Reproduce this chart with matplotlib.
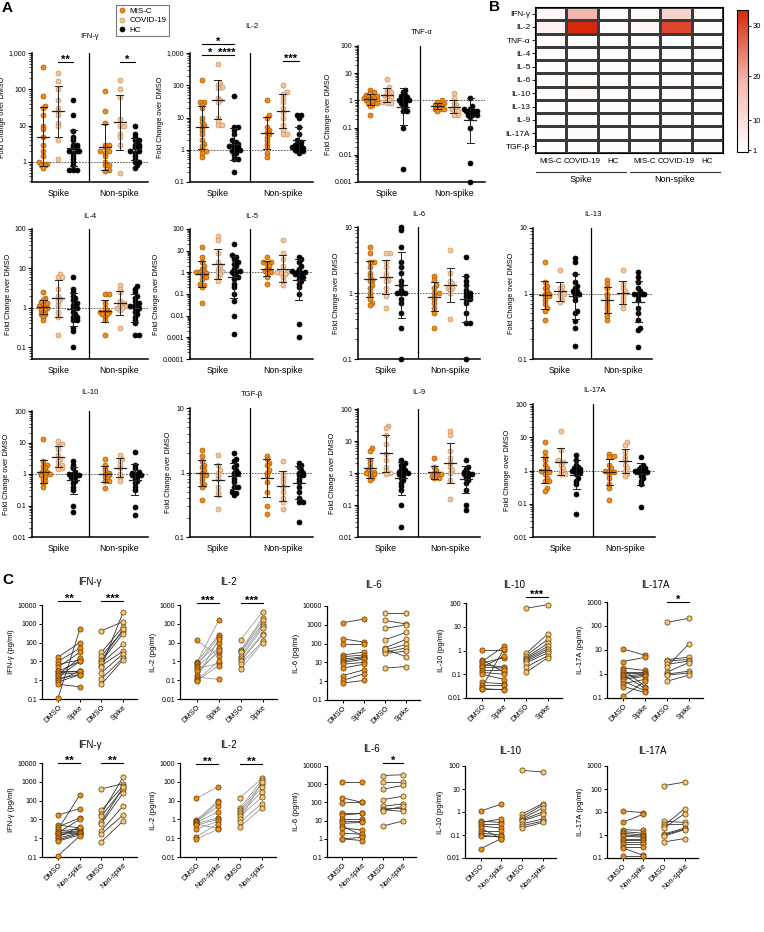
import numpy as np
import matplotlib
matplotlib.use("Agg")
from matplotlib import pyplot as plt
from matplotlib.colors import LinearSegmentedColormap, PowerNorm
from matplotlib.lines import Line2D
import matplotlib.transforms as mtransforms
import matplotlib.ticker as mticker

W, H = 764, 932

# ---------------- panel A: fold change over DMSO ----------------
# order: Spike (MIS-C, COVID-19, HC), Non-spike (MIS-C, COVID-19, HC)
IFNG_FC = (
    [400, 65, 35, 30, 20, 10, 8, 5, 3, 2, 1.5, 1, 0.9, 0.9, 0.8, 0.8, 0.7],
    [280, 170, 100, 50, 30, 25, 20, 12, 10, 4, 1.2],
    [50, 20, 7, 5, 4, 3, 3, 2.5, 2.5, 2, 2, 2, 1.8, 1.5, 1.2, 1, 0.8, 0.6, 0.6, 0.6],
    [90, 25, 12, 3, 3, 2.5, 2, 2, 1.8, 1.5, 1, 0.8, 0.8, 0.6, 0.55],
    [180, 100, 60, 15, 10, 10, 6, 5, 3, 0.5],
    [10, 6, 5, 4, 4, 3.5, 3, 3, 2.5, 2.5, 2, 2, 1.8, 1.5, 1.2, 1, 1, 0.8, 0.7],
)
IL2_FC = (
    [150, 30, 30, 25, 20, 10, 7, 6, 5, 4, 3, 2, 1.5, 1.3, 1, 0.9, 0.8, 0.6],
    [450, 120, 100, 90, 80, 40, 35, 30, 10, 8, 6, 6],
    [45, 5, 5, 4, 3, 2, 1.8, 1.5, 1.5, 1.3, 1.2, 1.2, 1, 1, 0.9, 0.8, 0.7, 0.5, 0.5, 0.2],
    [35, 12, 10, 5, 4, 3.5, 3, 2.5, 2, 1.5, 1.2, 0.8, 0.6],
    [100, 60, 55, 40, 30, 20, 15, 10, 6, 4, 3, 3],
    [12, 12, 10, 5, 3, 2, 1.8, 1.5, 1.4, 1.3, 1.2, 1.2, 1.1, 1, 1, 0.9, 0.8],
)
TNFA_FC = (
    [2.5, 2, 1.8, 1.6, 1.5, 1.4, 1.3, 1.2, 1.2, 1.1, 1, 1, 0.9, 0.8, 0.8, 0.7, 0.6, 0.3],
    [6, 3, 2.5, 2, 1.8, 1.5, 1.3, 1.2, 1, 0.9, 0.8, 0.8],
    [2.5, 2, 1.6, 1.4, 1.3, 1.2, 1, 1, 0.9, 0.8, 0.7, 0.6, 0.5, 0.4, 0.4, 0.1, 0.003],
    [1, 0.9, 0.8, 0.7, 0.7, 0.6, 0.6, 0.5, 0.5, 0.5, 0.4],
    [1.8, 1.2, 0.9, 0.7, 0.6, 0.5, 0.5, 0.4, 0.4, 0.3, 0.3],
    [1.2, 0.6, 0.5, 0.5, 0.4, 0.4, 0.4, 0.35, 0.3, 0.3, 0.3, 0.25, 0.1, 0.005, 0.001],
)
IL4_FC = (
    [2.5, 1.8, 1.6, 1.4, 1.3, 1.2, 1.1, 1, 1, 0.9, 0.9, 0.8, 0.7, 0.7, 0.6, 0.5],
    [7, 6, 6, 3, 2, 1.7, 1.5, 1.2, 0.8, 0.6, 0.2],
    [6, 3, 2.5, 2, 1.8, 1.6, 1.3, 1.2, 1, 1, 0.8, 0.7, 0.6, 0.6, 0.5, 0.5, 0.3, 0.25, 0.1],
    [2.2, 2.2, 1.3, 1, 0.9, 0.8, 0.8, 0.8, 0.7, 0.7, 0.6, 0.5, 0.2],
    [3.8, 3, 2.5, 1.5, 1.3, 1.2, 1.1, 1, 1, 0.9, 0.3],
    [3.5, 3, 2.5, 2, 1.8, 1.5, 1.3, 1.2, 1.1, 1, 1, 0.9, 0.8, 0.7, 0.6, 0.5, 0.4, 0.2, 0.2],
)
IL5_FC = (
    [15, 5, 3, 2, 1.5, 1.2, 1, 1, 0.9, 0.8, 0.6, 0.5, 0.3, 0.25, 0.2, 0.04],
    [50, 30, 8, 3, 2, 1.5, 1.2, 1, 0.8, 0.6, 0.4],
    [20, 6, 5, 4, 3, 2.5, 2, 1.5, 1.2, 1, 1, 0.8, 0.6, 0.5, 0.3, 0.2, 0.1, 0.05, 0.01, 0.0015],
    [5, 3, 3, 2.5, 2, 1.5, 1.2, 1, 0.9, 0.6, 0.3],
    [30, 8, 4, 2, 1, 1, 0.9, 0.8, 0.6, 0.4, 0.25],
    [5, 4, 3, 2, 1.5, 1.2, 1, 1, 0.9, 0.8, 0.7, 0.6, 0.5, 0.4, 0.3, 0.2, 0.1, 0.004, 0.001],
)
IL6_FC = (
    [5, 4, 3, 3, 2.5, 2, 1.8, 1.6, 1.5, 1.3, 1.2, 1, 0.9, 0.8, 0.7, 0.65],
    [4, 4, 3, 2.5, 2, 1.8, 1.6, 1.5, 1.2, 1, 0.9, 0.6],
    [10, 9, 5, 3, 2.5, 2, 1.5, 1.3, 1.1, 1, 1, 1, 0.8, 0.7, 0.5, 0.3, 0.1],
    [1.8, 1.6, 1.3, 1.2, 1, 1, 0.9, 0.8, 0.7, 0.6, 0.5, 0.3],
    [4.5, 2, 1.5, 1.4, 1.3, 1.2, 1.2, 1.1, 1, 0.4],
    [3.5, 1.8, 1.5, 1.3, 1.1, 1, 1, 0.9, 0.9, 0.8, 0.8, 0.7, 0.5, 0.35, 0.35, 0.1],
)
IL13_FC = (
    [3, 1.5, 1.3, 1.2, 1.1, 1, 1, 0.9, 0.9, 0.8, 0.7, 0.6, 0.55, 0.4],
    [2.3, 1.3, 1.2, 1.1, 1, 1, 0.9, 0.8, 0.75],
    [3.5, 3, 2, 1.5, 1.3, 1.2, 1.1, 1.1, 1, 1, 0.9, 0.8, 0.55, 0.5, 0.38, 0.3, 0.16],
    [1.6, 1.4, 1.2, 1, 0.9, 0.8, 0.7, 0.6, 0.5, 0.45, 0.4],
    [2.3, 1.4, 1.2, 1.1, 1, 0.9, 0.8, 0.7, 0.6],
    [2.1, 1.8, 1.5, 1.2, 1.1, 1, 1, 1, 1, 0.9, 0.8, 0.6, 0.5, 0.4, 0.3, 0.28, 0.15],
)
IL10_FC = (
    [13, 2.5, 2, 1.8, 1.5, 1.3, 1.2, 1.1, 1, 1, 0.9, 0.8, 0.7, 0.6, 0.5, 0.4],
    [11, 9, 8, 6, 4, 3, 2.5, 2, 1.8, 1.5, 1.4],
    [2.5, 2, 1.5, 1.2, 1, 1, 0.9, 0.8, 0.8, 0.7, 0.6, 0.5, 0.4, 0.3, 0.1, 0.06],
    [3, 2, 1.6, 1.3, 1.1, 1, 0.9, 0.8, 0.7, 0.6, 0.6, 0.35],
    [4, 3, 2.5, 2, 1.5, 1, 0.8, 0.6],
    [5, 2, 1.5, 1.2, 1.1, 1, 0.9, 0.9, 0.8, 0.7, 0.6, 0.5, 0.4, 0.3, 0.09, 0.05],
)
TGFB_FC = (
    [2.2, 1.8, 1.5, 1.3, 1.2, 1.1, 1, 0.9, 0.9, 0.8, 0.7, 0.65, 0.6, 0.37],
    [1.9, 1.3, 1.1, 1, 0.9, 0.8, 0.6, 0.5, 0.45, 0.27],
    [2, 1.6, 1.5, 1.3, 1.2, 1.1, 1, 1, 0.9, 0.8, 0.7, 0.6, 0.6, 0.5, 0.48, 0.45],
    [1.8, 1.6, 1.4, 1.3, 1.1, 1, 0.9, 0.7, 0.5, 0.3, 0.23],
    [1.5, 1, 0.9, 0.8, 0.7, 0.6, 0.5, 0.4, 0.35, 0.27],
    [1.4, 1.3, 1.2, 1.1, 1, 1, 0.9, 0.9, 0.8, 0.7, 0.6, 0.5, 0.4, 0.35, 0.35, 0.17],
)
IL9_FC = (
    [6, 5, 2.5, 2, 1.5, 1.2, 1.1, 1, 1, 0.9, 0.8, 0.7, 0.6],
    [30, 25, 15, 8, 4, 2.5, 1.5, 1.2, 1, 0.9],
    [2.5, 2, 1.8, 1.5, 1.3, 1.2, 1.1, 1, 1, 0.9, 0.8, 0.7, 0.6, 0.5, 0.4, 0.3, 0.1, 0.02],
    [3, 1.5, 1.2, 1, 0.9, 0.8, 0.8, 0.7, 0.7],
    [20, 15, 5, 3, 2, 1.5, 1.2, 1, 0.6, 0.15],
    [2.5, 1.5, 1.3, 1.1, 1, 0.9, 0.9, 0.8, 0.7, 0.6, 0.5, 0.3, 0.1, 0.07],
)
IL17A_FC = (
    [7, 3.5, 2.5, 2, 1.5, 1.2, 1, 1, 0.9, 0.8, 0.6, 0.5, 0.5, 0.3, 0.25],
    [15, 4, 2, 1.8, 1.5, 1.2, 1, 0.8, 0.8],
    [3, 2, 1.5, 1.3, 1.2, 1.1, 1, 1, 0.9, 0.8, 0.6, 0.5, 0.4, 0.2, 0.05],
    [3.2, 2.8, 2.5, 1.5, 1.2, 1, 1, 0.9, 0.8, 0.6, 0.4, 0.3, 0.13],
    [7, 6, 3.5, 2.5, 2, 1.5, 1.2, 1, 0.8, 0.7],
    [2.5, 1.5, 1.3, 1.2, 1.1, 1, 1, 0.9, 0.9, 0.8, 0.7, 0.6, 0.5, 0.4, 0.08],
)

# ---------------- panel B: heatmap of mean fold change ----------------
HEAT_ROWS = ["IFN-γ", "IL-2", "TNF-α", "IL-4", "IL-5", "IL-6", "IL-10", "IL-13", "IL-9", "IL-17A", "TGF-β"]
HEAT_COLS = ["MIS-C", "COVID-19", "HC", "MIS-C", "COVID-19", "HC"]
HEAT_GROUPS = ["Spike", "Non-spike"]
HEAT_VALS = [
    [3.5, 19, 2.2, 2.5, 13, 2.0],
    [5, 34, 1.5, 3.5, 30, 1.5],
    [1.2, 1.5, 0.9, 0.7, 0.8, 0.5],
    [1.0, 1.6, 1.0, 0.8, 1.2, 1.1],
    [1.0, 1.5, 1.0, 1.3, 1.1, 0.8],
    [1.7, 1.5, 1.0, 0.9, 1.3, 0.9],
    [1.3, 3.0, 0.9, 1.0, 2.2, 0.9],
    [1.0, 1.1, 1.1, 0.9, 1.0, 0.8],
    [1.2, 2.0, 1.0, 1.0, 1.8, 0.8],
    [1.0, 1.8, 1.0, 1.0, 1.5, 0.9],
    [0.9, 0.8, 0.9, 0.9, 0.7, 0.8],
]

# ---------------- panel C: paired pg/ml ----------------
# order: MIS-C DMSO, MIS-C stim, COVID-19 DMSO, COVID-19 stim (pairs by index)
IFNG_SPIKE = (
    [17, 10, 7, 5, 3, 3, 2.5, 2, 2, 1.5, 1.2, 1, 0.8, 0.6, 0.12],
    [100, 50, 12, 30, 3, 10, 3, 2.5, 15, 10, 2, 3, 2, 0.45, 500],
    [420, 30, 20, 12, 10, 8, 6, 5, 2.5, 1.2, 0.6],
    [1300, 700, 400, 500, 300, 80, 35, 4000, 25, 15, 12],
)
IL2_SPIKE = (
    [13, 0.9, 0.8, 0.7, 0.6, 0.5, 0.4, 0.3, 0.2, 0.15, 0.12, 0.1, 0.09],
    [2, 25, 150, 10, 20, 5, 0.8, 3, 4, 0.11, 15, 1, 0.6],
    [14, 4, 3.5, 3, 2, 1.5, 1.2, 1, 0.7, 0.4],
    [450, 200, 150, 100, 80, 60, 30, 25, 12, 10],
)
IL6_SPIKE = (
    [1300, 180, 90, 25, 20, 15, 12, 10, 8, 5, 2, 1.1, 0.8],
    [2000, 120, 90, 35, 25, 20, 18, 15, 10, 8, 4, 2.5, 1.1],
    [4500, 1700, 650, 160, 60, 45, 35, 30, 5, 50],
    [4500, 1100, 1000, 400, 170, 90, 60, 40, 6, 20],
)
IL10_SPIKE = (
    [1.1, 0.4, 0.35, 0.3, 0.25, 0.2, 0.2, 0.15, 0.12, 0.1, 0.045, 0.035, 0.03, 0.025, 0.025],
    [1.1, 0.12, 1.5, 0.5, 0.2, 0.18, 0.6, 0.15, 0.1, 0.06, 0.04, 0.035, 1.2, 0.025, 0.022],
    [60, 0.75, 0.6, 0.5, 0.45, 0.4, 0.35, 0.3, 0.2, 0.12],
    [85, 5, 3, 2, 1.5, 1.2, 1, 0.8, 0.6, 0.5],
)
IL17A_SPIKE = (
    [11, 3.3, 1.8, 1.5, 1.2, 1, 0.9, 0.8, 0.7, 0.6, 0.5, 0.4, 0.3, 0.12],
    [6, 5, 1.4, 0.3, 1.2, 1.1, 0.25, 1, 0.9, 0.8, 0.2, 0.6, 0.17, 0.5],
    [140, 4, 3.5, 2.5, 2, 1.2, 1, 0.9, 0.5],
    [210, 5, 4, 3.5, 18, 3, 1.3, 1.1, 0.9],
)
IFNG_NONSPIKE = (
    [17, 5, 4, 3, 2.5, 2, 2, 1.8, 1.5, 1.2, 1, 0.8, 0.7, 0.12],
    [38, 3.5, 12, 200, 3, 2.5, 10, 2.2, 2, 4, 2, 1.8, 1.5, 1.3],
    [420, 30, 20, 15, 7, 6, 2.5, 1.7, 0.65],
    [800, 600, 1700, 400, 500, 250, 50, 17, 8],
)
IL2_NONSPIKE = (
    [13, 0.9, 0.8, 0.75, 0.7, 0.6, 0.55, 0.5, 0.3, 0.12, 0.09],
    [55, 10, 5, 8, 2.5, 1.2, 0.35, 1, 0.8, 0.6, 0.3],
    [14, 4, 3, 2.5, 2, 1.5, 1, 0.7, 0.4],
    [150, 120, 80, 50, 30, 15, 100, 7, 4],
)
IL6_NONSPIKE = (
    [1400, 180, 95, 25, 20, 12, 10, 7, 5, 4, 2, 1, 1],
    [1400, 100, 100, 25, 25, 12, 10, 8, 1.5, 3, 1.8, 1.2, 0.8],
    [3000, 1250, 530, 140, 60, 45, 40, 35, 5],
    [3300, 1250, 860, 220, 84, 46, 32, 60, 9.5],
)
IL10_NONSPIKE = (
    [1.1, 0.4, 0.35, 0.3, 0.25, 0.2, 0.15, 0.12, 0.1, 0.09, 0.025],
    [2.2, 0.35, 0.5, 0.3, 0.2, 0.07, 0.15, 0.1, 0.08, 0.09, 0.07],
    [65, 0.8, 0.6, 0.5, 0.45, 0.4, 0.3, 0.25, 0.2],
    [55, 2.3, 2, 1.5, 1, 0.8, 0.5, 0.4, 0.35],
)
IL17A_NONSPIKE = (
    [11, 3.5, 1.7, 1.4, 1.2, 1, 0.9, 0.7, 0.6, 0.5, 0.4, 0.3, 0.28, 0.12],
    [9.5, 8, 1.6, 1.2, 1, 0.9, 0.8, 0.7, 0.6, 0.5, 0.4, 0.3, 0.13, 0.12],
    [140, 4, 3, 2.5, 2, 1.1, 1, 0.9, 0.5],
    [200, 3.5, 3, 14, 8.5, 2, 1.8, 1.7, 0.7],
)

GROUPS = ["MIS-C", "COVID-19", "HC"]

# colours
A_FACE = ['#EF8A17', '#F6C497', 'black']
A_EDGE = ['#A85A08', '#C89468', 'black']
C_FACE = ['#F08C10', '#F7C870']
C_EDGE = '#5A3A10'
A_POS = [1, 2, 3, 5.1, 6.1, 7.1]


def ax_at(fig, x0, y0, x1, y1):
    return fig.add_axes([x0 / W, 1 - y1 / H, (x1 - x0) / W, (y1 - y0) / H])


def ftext(fig, x, y, s, **kw):
    fig.text(x / W, 1 - y / H, s, **kw)


def log_fmt(comma):
    def f(v, pos):
        if v >= 1:
            return f"{int(round(v)):,}" if comma else f"{int(round(v))}"
        return f"{v:g}"
    return mticker.FuncFormatter(f)


def swarm(vals, center, ax, size_px=4.2):
    # spread overlapping dots sideways (pixel space)
    bb = ax.get_position()
    w_px, h_px = bb.width * W, bb.height * H
    x0, x1 = ax.get_xlim()
    y0, y1 = ax.get_ylim()
    x_per_px = (x1 - x0) / w_px
    ly = (np.log10(vals) - np.log10(y0)) / (np.log10(y1) - np.log10(y0)) * h_px
    placed = []
    xs = np.zeros(len(vals))
    for i in np.argsort(ly):
        best, best_d = 0.0, -1
        for k in range(0, 7):
            off = ((k + 1) // 2) * (1 if k % 2 else -1) * size_px * 0.5
            d = min([np.hypot(off - px, ly[i] - py) for px, py in placed] or [99])
            if d >= size_px * 0.65:
                best = off
                break
            if d > best_d:
                best, best_d = off, d
        placed.append((best, ly[i]))
        xs[i] = center + best * x_per_px
    return xs


def log_ticks(ax, ylim, comma, minor=True):
    lo, hi = np.log10(ylim[0]), np.log10(ylim[1])
    ax.set_yticks(10.0 ** np.arange(np.ceil(lo - 1e-9), np.floor(hi + 1e-9) + 1))
    ax.yaxis.set_major_formatter(log_fmt(comma))
    if minor:
        ax.yaxis.set_minor_locator(mticker.LogLocator(base=10, subs=np.arange(2, 10), numticks=100))
    else:
        ax.yaxis.set_minor_locator(mticker.NullLocator())
    ax.yaxis.set_minor_formatter(mticker.NullFormatter())


def sig(fig, ax, x1, x2, y_px, label, fs=8):
    tr = mtransforms.blended_transform_factory(ax.transData, fig.transFigure)
    y = 1 - y_px / H
    ax.plot([x1, x2], [y, y], color='black', lw=0.8, transform=tr, clip_on=False)
    ax.text((x1 + x2) / 2, y - 2.5 / H, label, transform=tr, ha='center', va='bottom',
            fontsize=fs, fontweight='bold')


def fold_panel(fig, box, title, title_y, groups, ylim, comma=False):
    ax = ax_at(fig, *box)
    ax.set_xlim(0.25, 8.0)
    ax.set_yscale('log')
    ax.set_ylim(*ylim)
    bb = ax.get_position()
    x_per_px = 7.75 / (bb.width * W)
    for i, vals in enumerate(groups):
        vals = np.asarray(vals, float)
        c = A_POS[i]
        ax.scatter(swarm(vals, c, ax), vals, s=13, c=A_FACE[i % 3], edgecolors=A_EDGE[i % 3],
                   linewidths=0.5, zorder=3, clip_on=False)
        lv = np.log10(vals)
        m, sd = lv.mean(), lv.std(ddof=1)
        ax.plot([c - 6 * x_per_px, c + 6 * x_per_px], [10 ** m] * 2, color='#222', lw=0.9, zorder=4)
        ax.plot([c, c], [10 ** (m - sd), 10 ** (m + sd)], color='#222', lw=0.7, zorder=4)
        for e in (m - sd, m + sd):
            ax.plot([c - 3.5 * x_per_px, c + 3.5 * x_per_px], [10 ** e] * 2, color='#222', lw=0.7, zorder=4)
    ax.axhline(1, color='#444', lw=0.6, ls=(0, (2, 1.5)), zorder=1)
    ax.axvline(4.05, color='black', lw=0.9, zorder=2)
    for s in ('top', 'right'):
        ax.spines[s].set_visible(False)
    ax.spines['left'].set_linewidth(1.1)
    ax.spines['bottom'].set_linewidth(1.1)
    log_ticks(ax, ylim, comma)
    ax.tick_params(axis='y', which='major', labelsize=5, length=3, width=0.8, pad=1)
    ax.tick_params(axis='y', which='minor', length=2, width=0.5)
    ax.set_xticks([2, 6.1])
    ax.set_xticklabels(["Spike", "Non-spike"], fontsize=6.3)
    ax.tick_params(axis='x', length=0, pad=5)
    ax.set_ylabel("Fold Change over DMSO", fontsize=5.2, labelpad=2)
    ftext(fig, (box[0] + box[2]) / 2, title_y, title, ha='center', va='center', fontsize=5.5)
    return ax


def paired_panel(fig, box, title, title_y, data, ylim, stim, ylabel, line_col):
    ax = ax_at(fig, *box)
    ax.set_xlim(-0.75, 3.65)
    ax.set_yscale('log')
    ax.set_ylim(*ylim)
    md, ms, cd, cs = data
    for a, b in zip(md, ms):
        ax.plot([0, 1], [a, b], color=line_col, lw=0.6, zorder=2, clip_on=False)
    for a, b in zip(cd, cs):
        ax.plot([2, 3], [a, b], color=line_col, lw=0.6, zorder=2, clip_on=False)
    for x, vals, col in ((0, md, C_FACE[0]), (1, ms, C_FACE[0]), (2, cd, C_FACE[1]), (3, cs, C_FACE[1])):
        ax.scatter([x] * len(vals), vals, s=14, c=col, edgecolors=C_EDGE, linewidths=0.5,
                   zorder=3, clip_on=False)
    for s in ('top', 'right'):
        ax.spines[s].set_visible(False)
    ax.spines['left'].set_linewidth(0.9)
    ax.spines['bottom'].set_linewidth(0.9)
    log_ticks(ax, ylim, False, minor=False)
    ax.tick_params(axis='y', labelsize=5, length=2.5, width=0.7, pad=1)
    ax.set_xticks([0, 1, 2, 3])
    ax.set_xticklabels(["DMSO", stim, "DMSO", stim], rotation=45, ha='right',
                       rotation_mode='anchor', fontsize=5.3)
    ax.tick_params(axis='x', length=2.5, width=0.7, pad=1)
    ax.set_ylabel(ylabel, fontsize=5.5, labelpad=2)
    ftext(fig, (box[0] + box[2]) / 2, title_y, title, ha='center', va='center', fontsize=7)
    return ax


def heatmap_panel(fig):
    ax = ax_at(fig, 535, 7, 723, 153)
    cmap = LinearSegmentedColormap.from_list('wr', ['#FFFFFF', '#F3B7AE', '#D8270A'])
    norm = PowerNorm(gamma=1.25, vmin=0, vmax=33)
    vals = np.array(HEAT_VALS)
    mesh = ax.pcolormesh(np.arange(vals.shape[1] + 1), np.arange(vals.shape[0] + 1), vals,
                         cmap=cmap, norm=norm, edgecolors='#3a3a3a', linewidth=0.8)
    ax.set_xlim(0, vals.shape[1])
    ax.set_ylim(vals.shape[0], 0)
    ax.set_yticks(np.arange(vals.shape[0]) + 0.5)
    ax.set_yticklabels(HEAT_ROWS, fontsize=6)
    ax.tick_params(axis='y', length=2.5, width=0.6, pad=1)
    ax.set_xticks([])
    for s in ax.spines.values():
        s.set_linewidth(0.8)
    for j, lab in enumerate(HEAT_COLS):
        ax.text(j + 0.5, vals.shape[0] + 0.35, lab, ha='center', va='top', fontsize=5.8)
    for g, lab in enumerate(HEAT_GROUPS):
        xa, xb = g * 3, g * 3 + 3
        ax.plot([xa + 0.02, xb - 0.1], [12.45, 12.45], color='#333', lw=0.8, clip_on=False)
        ax.text((xa + xb) / 2 - 0.05, 12.65, lab, ha='center', va='top', fontsize=6.5)
    cax = ax_at(fig, 737, 10, 748, 152)
    cb = fig.colorbar(mesh, cax=cax, ticks=[1, 10, 20, 30])
    cb.outline.set_linewidth(0.8)
    cax.tick_params(labelsize=5.5, length=2, width=0.6, pad=1.5)


def main():
    plt.rcParams['font.family'] = ['Liberation Sans', 'DejaVu Sans']
    plt.rcParams['axes.linewidth'] = 0.9
    fig = plt.figure(figsize=(W / 100, H / 100), dpi=100)

    # panel labels
    ftext(fig, 2, 8, "A", fontsize=11, fontweight='bold', va='center')
    ftext(fig, 489, 7, "B", fontsize=11, fontweight='bold', va='center')
    ftext(fig, 2, 580, "C", fontsize=11, fontweight='bold', va='center')

    # legend
    handles = [Line2D([], [], marker='o', ls='', ms=3.6, mfc=A_FACE[i], mec=A_EDGE[i], mew=0.5)
               for i in range(3)]
    leg = fig.legend(handles, GROUPS, loc='upper left', bbox_to_anchor=(112 / W, 1 - 1 / H),
                     fontsize=5.8, frameon=True, fancybox=False, handlelength=0.8,
                     handletextpad=0.6, borderpad=0.3, labelspacing=0.2)
    leg.get_frame().set_edgecolor('#555')
    leg.get_frame().set_linewidth(0.8)

    ax = fold_panel(fig, (32, 53, 148, 182), "IFN-γ", 36, IFNG_FC, (0.28, 1000), comma=True)
    sig(fig, ax, 2, 3, 62, "**")
    sig(fig, ax, 6.1, 7.1, 62, "*")
    ax = fold_panel(fig, (190, 53, 313, 182), "IL-2", 27, IL2_FC, (0.1, 1000), comma=True)
    sig(fig, ax, 1, 2, 55, "*")
    sig(fig, ax, 2.1, 3, 55, "****")
    sig(fig, ax, 1, 3, 44, "*")
    sig(fig, ax, 6.1, 7.1, 61, "***")
    fold_panel(fig, (358, 46, 485, 182), "TNF-α", 32, TNFA_FC, (0.001, 100))

    fold_panel(fig, (32, 229, 148, 359), "IL-4", 217, IL4_FC, (0.05, 100))
    fold_panel(fig, (190, 229, 313, 359), "IL-5", 217, IL5_FC, (0.0001, 100))
    fold_panel(fig, (358, 227, 480, 359), "IL-6", 214, IL6_FC, (0.1, 10))
    fold_panel(fig, (533, 228, 652, 359), "IL-13", 215, IL13_FC, (0.1, 10))

    fold_panel(fig, (32, 411, 148, 537), "IL-10", 393, IL10_FC, (0.01, 100))
    fold_panel(fig, (190, 408, 313, 537), "TGF-β", 394, TGFB_FC, (0.1, 10))
    fold_panel(fig, (358, 409, 480, 537), "IL-9", 392, IL9_FC, (0.01, 100))
    fold_panel(fig, (533, 404, 655, 537), "IL-17A", 390, IL17A_FC, (0.01, 100))

    heatmap_panel(fig)

    # panel C
    dark, grey = '#333333', '#9a9a9a'
    ax = paired_panel(fig, (42, 605, 137, 699), "IFN-γ", 582, IFNG_SPIKE, (0.1, 10000), "Spike", "IFN-γ (pg/ml)", dark)
    sig(fig, ax, 0, 1, 601, "**")
    sig(fig, ax, 2, 3, 601, "***")
    ax = paired_panel(fig, (180, 605, 277, 699), "IL-2", 582, IL2_SPIKE, (0.01, 1000), "Spike", "IL-2 (pg/ml)", grey)
    sig(fig, ax, 0, 1, 603, "***")
    sig(fig, ax, 2, 3, 603, "***")
    paired_panel(fig, (327, 606, 420, 700), "IL-6", 585, IL6_SPIKE, (0.1, 10000), "Spike", "IL-6 (pg/ml)", dark)
    ax = paired_panel(fig, (466, 603, 562, 698), "IL-10", 585, IL10_SPIKE, (0.01, 100), "Spike", "IL-10 (pg/ml)", dark)
    sig(fig, ax, 2, 3, 597, "***")
    ax = paired_panel(fig, (607, 602, 703, 698), "IL-17A", 585, IL17A_SPIKE, (0.1, 1000), "Spike", "IL-17A (pg/ml)", dark)
    sig(fig, ax, 2, 3, 602, "*")

    ax = paired_panel(fig, (42, 763, 137, 857), "IFN-γ", 745, IFNG_NONSPIKE, (0.1, 10000), "Non-spike", "IFN-γ (pg/ml)", dark)
    sig(fig, ax, 0, 1, 763, "**")
    sig(fig, ax, 2, 3, 763, "**")
    ax = paired_panel(fig, (180, 763, 276, 857), "IL-2", 745, IL2_NONSPIKE, (0.01, 1000), "Non-spike", "IL-2 (pg/ml)", grey)
    sig(fig, ax, 0, 1, 764, "**")
    sig(fig, ax, 2, 3, 764, "**")
    ax = paired_panel(fig, (327, 766, 416, 857), "IL-6", 749, IL6_NONSPIKE, (0.1, 10000), "Non-spike", "IL-6 (pg/ml)", dark)
    sig(fig, ax, 2, 3, 763, "*")
    paired_panel(fig, (465, 766, 556, 858), "IL-10", 751, IL10_NONSPIKE, (0.01, 100), "Non-spike", "IL-10 (pg/ml)", dark)
    paired_panel(fig, (607, 766, 698, 858), "IL-17A", 751, IL17A_NONSPIKE, (0.1, 1000), "Non-spike", "IL-17A (pg/ml)", dark)

    fig.savefig("out.png", dpi=100)


if __name__ == "__main__":
    main()
